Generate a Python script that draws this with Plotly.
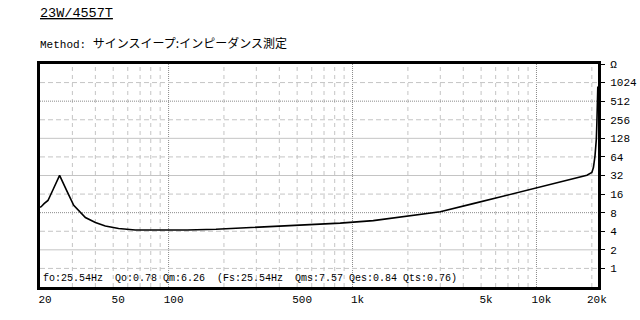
import math
import plotly.graph_objects as go

# ---------------- data ----------------
freq_hz = [20, 20.3, 21.05, 22.1, 23.7, 25.56, 27.9, 30.5, 35.3, 40, 45.3, 53.5, 65.9,
           93, 100, 126, 181, 278, 420, 640, 857, 1296, 1976, 2998, 4528, 6903,
           10470, 12300, 15240, 18800, 20000, 20400, 20800, 21000, 21150, 21300, 21550]
impedance_ohm = [9.8, 10.0, 11.2, 12.6, 19.7, 32.2, 18.4, 10.5, 6.67, 5.53, 4.86, 4.42, 4.2,
                 4.15, 4.15, 4.2, 4.31, 4.58, 4.87, 5.18, 5.42, 5.95, 6.95, 8.3, 11.2, 15.3,
                 20.7, 23.1, 26.9, 32.3, 35.8, 43, 66, 84, 123, 228, 885]

x_tick_vals = [20, 50, 100, 500, 1000, 5000, 10000, 20000]
x_tick_text = ["20", "50", "100", "500", "1k", "5k", "10k", "20k"]
y_tick_vals = [1, 2, 4, 8, 16, 32, 64, 128, 256, 512, 1024, 2048]
y_tick_text = ["1", "2", "4", "8", "16", "32", "64", "128", "256", "512", "1024", "Ω"]

x_grid_dotted = [100, 1000, 10000]
x_grid_dashed = [30, 40, 50, 60, 70, 80, 90,
                 200, 300, 400, 500, 600, 700, 800, 900,
                 2000, 3000, 4000, 5000, 6000, 7000, 8000, 9000, 20000]
y_grid_dotted = [8, 512]
y_grid_solid = [2, 32, 128]
y_grid_dashed = [1, 4, 16, 64, 256, 1024]

title_text = "23W/4557T"
method_label = "Method:"
method_text = "サインスイープ:インピーダンス測定"
param_text = "fo:25.54Hz  Qo:0.78 Qm:6.26  (Fs:25.54Hz  Qms:7.57 Qes:0.84 Qts:0.76)"

x_range = [20, 21600]
y_range = [0.5, 2048]

# ---------------- layout geometry ----------------
W, H = 640, 320
L, R, T, B = 40, 42, 64, 33
PW, PH = W - L - R, H - T - B


def pxx(px):
    return (px - L) / PW


def pxy(py):
    return (H - B - py) / PH


MONO = "Liberation Mono, DejaVu Sans Mono, monospace"
CJK = "Noto Sans CJK JP"

fig = go.Figure()
fig.add_trace(go.Scatter(x=freq_hz, y=impedance_ohm, mode="lines",
                         line=dict(color="black", width=1.6), hoverinfo="skip",
                         showlegend=False))

shapes = []
LIGHT = "#c4c4c4"
DARK = "#8a8a8a"
for v in x_grid_dashed:
    shapes.append(dict(type="line", xref="x", yref="paper", x0=v, x1=v, y0=0, y1=1,
                       layer="below", line=dict(color=LIGHT, width=1, dash="4px,4px")))
for v in x_grid_dotted:
    shapes.append(dict(type="line", xref="x", yref="paper", x0=v, x1=v, y0=0, y1=1,
                       layer="below", line=dict(color=DARK, width=1, dash="1px,1px")))
for v in y_grid_dashed:
    shapes.append(dict(type="line", xref="paper", yref="y", x0=0, x1=1, y0=v, y1=v,
                       layer="below", line=dict(color=LIGHT, width=1, dash="5px,3px")))
for v in y_grid_solid:
    shapes.append(dict(type="line", xref="paper", yref="y", x0=0, x1=1, y0=v, y1=v,
                       layer="below", line=dict(color=LIGHT, width=1)))
for v in y_grid_dotted:
    shapes.append(dict(type="line", xref="paper", yref="y", x0=0, x1=1, y0=v, y1=v,
                       layer="below", line=dict(color=DARK, width=1, dash="1px,1px")))

annotations = [
    dict(text="<u>" + title_text + "</u>", xref="paper", yref="paper",
         x=pxx(38), y=pxy(13), xanchor="left", yanchor="middle", showarrow=False,
         font=dict(family=MONO, size=13.5, color="black")),
    dict(text=method_label + "\u00a0" +
         "<span style=\"font-family:'" + CJK + "';font-size:12px\">" + method_text + "</span>",
         xref="paper", yref="paper", x=pxx(38), y=pxy(42.5), xanchor="left",
         yanchor="middle", showarrow=False,
         font=dict(family=MONO, size=11, color="black")),
    dict(text=param_text.replace(" ", "\u00a0"), xref="paper", yref="paper",
         x=pxx(41), y=pxy(278.5), xanchor="left", yanchor="middle", showarrow=False,
         font=dict(family=MONO, size=10, color="black")),
]

fig.update_layout(
    template="none",
    width=W, height=H,
    margin=dict(l=L, r=R, t=T, b=B, pad=0),
    paper_bgcolor="white", plot_bgcolor="white",
    shapes=shapes, annotations=annotations,
    showlegend=False,
    xaxis=dict(type="log", range=[math.log10(x_range[0]), math.log10(x_range[1])],
               tickvals=x_tick_vals, ticktext=x_tick_text, ticks="",
               showgrid=False, zeroline=False, showline=True, mirror=True,
               automargin=False,
               linecolor="black", linewidth=3, ticklabelshift=5,
               tickfont=dict(family=MONO, size=11, color="black")),
    yaxis=dict(type="log", range=[math.log10(y_range[0]), math.log10(y_range[1])],
               tickvals=y_tick_vals, ticktext=y_tick_text, side="right",
               ticks="outside", ticklen=4, tickwidth=1, tickcolor="black",
               showgrid=False, zeroline=False, showline=True, mirror=True,
               automargin=False,
               linecolor="black", linewidth=3, ticklabelstandoff=3,
               tickfont=dict(family=MONO, size=11, color="black")),
)

fig.write_html("out.html")
